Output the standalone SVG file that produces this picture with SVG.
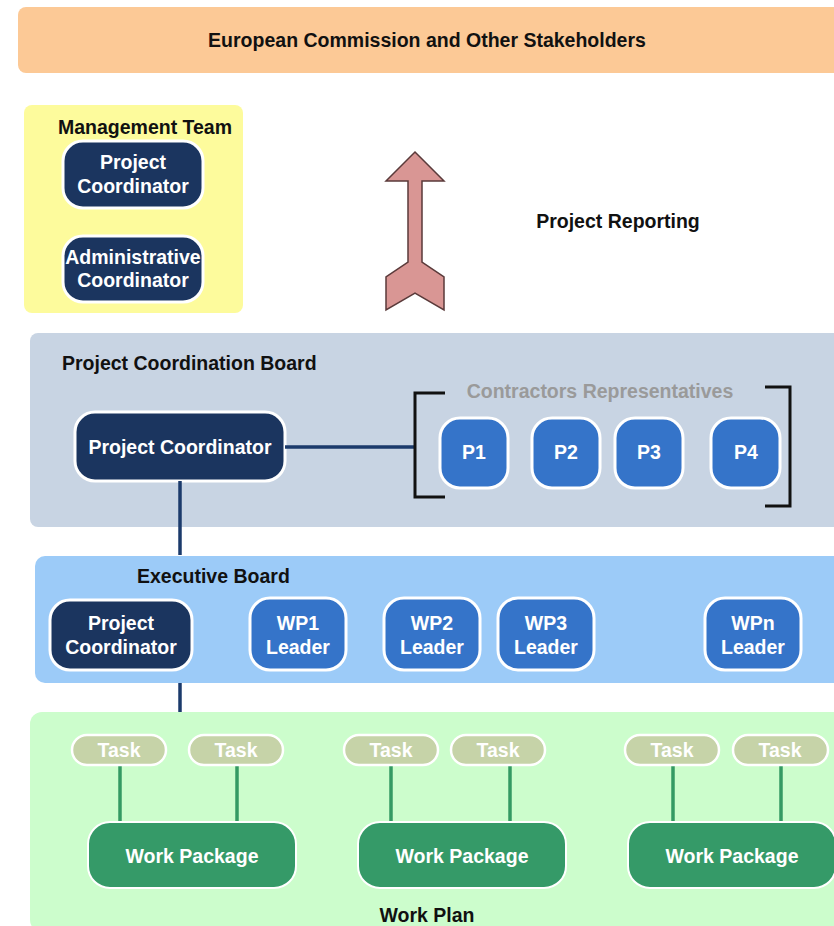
<svg xmlns="http://www.w3.org/2000/svg" width="834" height="926" viewBox="0 0 834 926">
  <style>
    text { font-family: "Liberation Sans", Arial, sans-serif; font-weight: bold; }
    .title { font-size: 19.5px; fill: #111; }
    .lbl { font-size: 19.5px; fill: #fff; text-anchor: middle; }
    .navy { fill: #1B355F; stroke: #fff; stroke-width: 3; }
    .blue { fill: #3574C9; stroke: #fff; stroke-width: 3; }
    .task { fill: #C6D3A8; stroke: #fff; stroke-width: 2.5; }
    .tasklbl { font-size: 19.5px; fill: #fff; text-anchor: middle; }
    .wp { fill: #359A68; stroke: #fff; stroke-width: 2; }
    .link { stroke: #1B3A6B; stroke-width: 3.5; fill: none; }
    .glink { stroke: #349A63; stroke-width: 3.5; fill: none; }
    .bracket { stroke: #111; stroke-width: 3; fill: none; }
  </style>

  <rect width="834" height="926" fill="#fff"/>

  <!-- top stakeholder banner -->
  <g id="stakeholders">
    <rect x="18" y="7" width="830" height="66" rx="8" fill="#FCC996"/>
    <text class="title" x="427" y="47" text-anchor="middle">European Commission and Other Stakeholders</text>
  </g>

  <!-- management team -->
  <g id="management-team">
    <rect x="24" y="105" width="219" height="208" rx="8" fill="#FDFB9C"/>
    <text class="title" x="145" y="134" text-anchor="middle">Management Team</text>
  </g>
  <g id="mt-project-coordinator">
    <rect class="navy" x="63" y="141" width="140" height="67" rx="20"/>
    <text class="lbl" x="133" y="169">Project</text>
    <text class="lbl" x="133" y="193">Coordinator</text>
  </g>
  <g id="mt-admin-coordinator">
    <rect class="navy" x="63" y="236" width="140" height="66" rx="20"/>
    <text class="lbl" x="133" y="264">Administrative</text>
    <text class="lbl" x="133" y="287">Coordinator</text>
  </g>

  <!-- reporting arrow -->
  <g id="project-reporting">
    <path d="M415,152 L444,181 L422,181 L422,262 L444,277 L444,310 L415,293 L386,310 L386,277 L408,262 L408,181 L386,181 Z" fill="#D99694" stroke="#5A3A3A" stroke-width="1.5" stroke-linejoin="miter"/>
    <text class="title" x="618" y="228" text-anchor="middle">Project Reporting</text>
  </g>

  <!-- project coordination board -->
  <g id="coordination-board">
    <rect x="30" y="333" width="820" height="194" rx="8" fill="#C8D4E3"/>
    <text class="title" x="62" y="370">Project Coordination Board</text>
    <text x="600" y="398" font-size="19.5" fill="#9A9A9A" text-anchor="middle">Contractors Representatives</text>
  </g>
  <g id="pcb-project-coordinator">
    <rect class="navy" x="75" y="412" width="210" height="69" rx="20"/>
    <text class="lbl" x="180" y="454">Project Coordinator</text>
  </g>
  <g id="p1"><rect class="blue" x="440" y="418" width="68" height="70" rx="20"/><text class="lbl" x="474" y="459">P1</text></g>
  <g id="p2"><rect class="blue" x="532" y="418" width="68" height="70" rx="20"/><text class="lbl" x="566" y="459">P2</text></g>
  <g id="p3"><rect class="blue" x="615" y="418" width="68" height="70" rx="20"/><text class="lbl" x="649" y="459">P3</text></g>
  <g id="p4"><rect class="blue" x="711" y="418" width="69" height="70" rx="20"/><text class="lbl" x="746" y="459">P4</text></g>

  <!-- executive board -->
  <g id="executive-board">
    <rect x="35" y="556" width="815" height="127" rx="10" fill="#9CCBF8"/>
    <text class="title" x="137" y="583">Executive Board</text>
  </g>
  <g id="eb-project-coordinator">
    <rect class="navy" x="50" y="600" width="142" height="70" rx="20"/>
    <text class="lbl" x="121" y="630">Project</text>
    <text class="lbl" x="121" y="654">Coordinator</text>
  </g>
  <g id="wp1-leader"><rect class="blue" x="250" y="598" width="96" height="72" rx="20"/><text class="lbl" x="298" y="630">WP1</text><text class="lbl" x="298" y="654">Leader</text></g>
  <g id="wp2-leader"><rect class="blue" x="384" y="598" width="96" height="72" rx="20"/><text class="lbl" x="432" y="630">WP2</text><text class="lbl" x="432" y="654">Leader</text></g>
  <g id="wp3-leader"><rect class="blue" x="498" y="598" width="96" height="72" rx="20"/><text class="lbl" x="546" y="630">WP3</text><text class="lbl" x="546" y="654">Leader</text></g>
  <g id="wpn-leader"><rect class="blue" x="705" y="598" width="96" height="72" rx="20"/><text class="lbl" x="753" y="630">WPn</text><text class="lbl" x="753" y="654">Leader</text></g>

  <!-- work plan -->
  <g id="work-plan">
    <rect x="30" y="712" width="820" height="220" rx="12" fill="#CCFDCC"/>
    <text class="title" x="427" y="922" text-anchor="middle">Work Plan</text>
  </g>

  <!-- connectors -->
  <g id="connectors">
    <line class="link" x1="285" y1="447" x2="416" y2="447"/>
    <line class="link" x1="180" y1="481" x2="180" y2="555"/>
    <line class="link" x1="180" y1="683" x2="180" y2="712"/>
    <path class="bracket" d="M445,393 H415 V497 H445"/>
    <path class="bracket" d="M765,387 H790 V506 H765"/>
    <line class="glink" x1="120" y1="765" x2="120" y2="823"/>
    <line class="glink" x1="237" y1="765" x2="237" y2="823"/>
    <line class="glink" x1="391" y1="765" x2="391" y2="823"/>
    <line class="glink" x1="510" y1="765" x2="510" y2="823"/>
    <line class="glink" x1="673" y1="765" x2="673" y2="823"/>
    <line class="glink" x1="781" y1="765" x2="781" y2="823"/>
  </g>

  <g id="task-1"><rect class="task" x="72" y="735" width="94" height="30" rx="15"/><text class="tasklbl" x="119" y="757">Task</text></g>
  <g id="task-2"><rect class="task" x="189" y="735" width="94" height="30" rx="15"/><text class="tasklbl" x="236" y="757">Task</text></g>
  <g id="task-3"><rect class="task" x="344" y="735" width="94" height="30" rx="15"/><text class="tasklbl" x="391" y="757">Task</text></g>
  <g id="task-4"><rect class="task" x="451" y="735" width="94" height="30" rx="15"/><text class="tasklbl" x="498" y="757">Task</text></g>
  <g id="task-5"><rect class="task" x="625" y="735" width="94" height="30" rx="15"/><text class="tasklbl" x="672" y="757">Task</text></g>
  <g id="task-6"><rect class="task" x="733" y="735" width="95" height="30" rx="15"/><text class="tasklbl" x="780" y="757">Task</text></g>

  <g id="work-package-1"><rect class="wp" x="88" y="822" width="208" height="66" rx="22"/><text class="lbl" x="192" y="863">Work Package</text></g>
  <g id="work-package-2"><rect class="wp" x="358" y="822" width="208" height="66" rx="22"/><text class="lbl" x="462" y="863">Work Package</text></g>
  <g id="work-package-3"><rect class="wp" x="628" y="822" width="208" height="66" rx="22"/><text class="lbl" x="732" y="863">Work Package</text></g>
</svg>
